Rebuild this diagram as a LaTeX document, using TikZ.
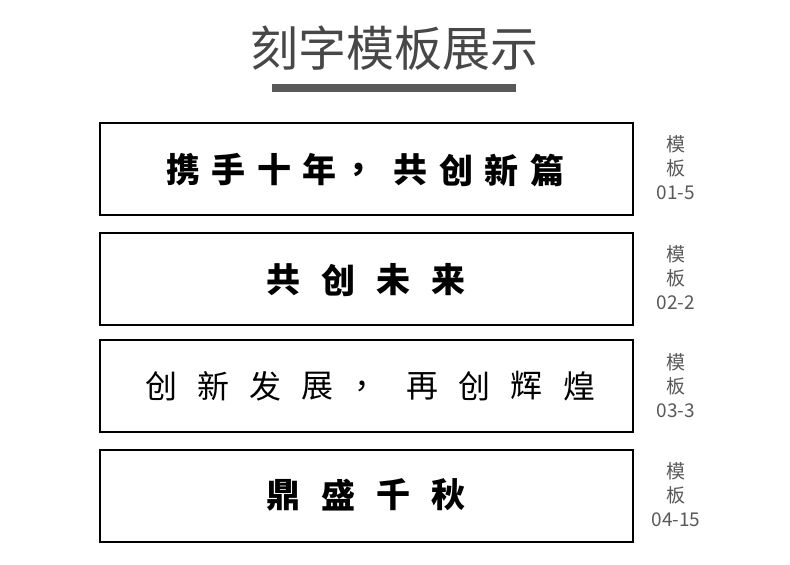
\documentclass[tikz,border=0pt]{standalone}
\usepackage{fontspec}
\newfontfamily\cjk{Noto Sans CJK SC}
\newfontfamily\cjkb{Noto Sans CJK SC Black}
\begin{document}
\begin{tikzpicture}[x=1pt,y=-1pt,
  box/.style={draw=black,line width=1.5pt},
  lab/.style={font=\cjk\fontsize{19}{24}\selectfont,text=black!65,align=center},
  ch/.style={font=\cjkb\fontsize{34}{34}\selectfont,inner sep=0pt}]
\useasboundingbox (0,0) rectangle (790,565);
\node[font=\cjk\fontsize{48}{48}\selectfont,text=black!72] (title) at (394,48) {刻字模板展示};
\fill[black!65] (272,84) rectangle (516,92);
\foreach \y/\n in {123/1,233/2,340/3,450/4}{
  \draw[box] (100,\y) rectangle (633,\y+92);
}
\node[lab] (l1) at (676,168) {模\\板\\01-5};
\node[lab] (l2) at (676,278) {模\\板\\02-2};
\node[lab] (l3) at (676,386) {模\\板\\03-3};
\node[lab] (l4) at (676,495) {模\\板\\04-15};
\foreach \c [count=\i] in {携,手,十,年,，,共,创,新,篇}
  \node[ch] at (183+45.5*\i-45.5,170) {\c};
\foreach \c [count=\i] in {共,创,未,来}
  \node[ch] at (283+55*\i-55,280) {\c};
\foreach \c [count=\i] in {创,新,发,展,，,再,创,辉,煌}
  \node[ch,font=\cjk\fontsize{32}{32}\selectfont] at (161+52.25*\i-52.25,386) {\c};
\foreach \c [count=\i] in {鼎,盛,千,秋}
  \node[ch] at (283+55*\i-55,495) {\c};
\end{tikzpicture}
\end{document}
